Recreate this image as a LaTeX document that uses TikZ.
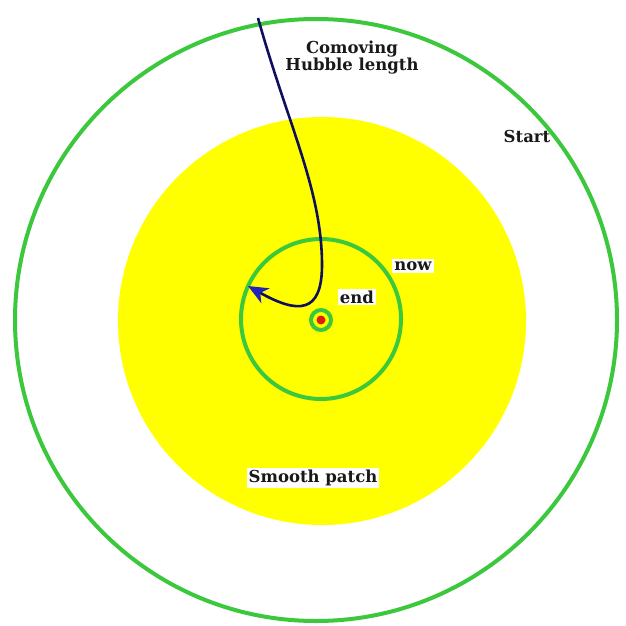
\documentclass[tikz,border=0pt]{standalone}
\usepackage{fontspec}
\setmainfont{DejaVu Serif}
\usetikzlibrary{arrows.meta}
\definecolor{ringgreen}{RGB}{60,200,60}
\definecolor{patchyellow}{RGB}{255,255,0}
\definecolor{arrownavy}{RGB}{15,15,95}
\definecolor{tipblue}{RGB}{35,35,185}
\definecolor{dotred}{RGB}{220,30,10}
\tikzset{
  ring/.style={draw=ringgreen, line width=4pt},
  lbl/.style={fill=white, inner sep=2pt, font=\bfseries\fontsize{16.5}{19}\selectfont, text=black!90},
}
\begin{document}
\begin{tikzpicture}[x=1pt,y=-1pt]
\useasboundingbox (0,0) rectangle (625,626);
\fill[white] (0,0) rectangle (625,626);
% yellow smooth patch
\fill[patchyellow] (322,321) circle (204);
% rings
\draw[ring] (316,320) circle (301);
\draw[ring] (321,319) circle (80);
\draw[ring] (321,320) circle (10);
\fill[dotred] (321,320) circle (4.5);
% arrow
\coordinate (s) at (258,18);
\coordinate (e) at (248,286);
\draw[arrownavy, line width=2.6pt, -{Stealth[length=20pt,width=17pt,inset=6pt,fill=tipblue,color=tipblue]}]
  (s) .. controls (288,125) and (322,190) .. (322,265)
  .. controls (322,314) and (298,314) .. (e);
% labels
\node[lbl, align=center, fill=none, inner sep=0pt] (hub) at (352,58) {Comoving\\[-2pt]Hubble length};
\node[lbl, fill=none] (start) at (527,136) {Start};
\node[lbl] (now) at (413,266) {now};
\node[lbl] (end) at (357,297) {end};
\node[lbl] (smooth) at (313,478) {Smooth patch};
\end{tikzpicture}
\end{document}
